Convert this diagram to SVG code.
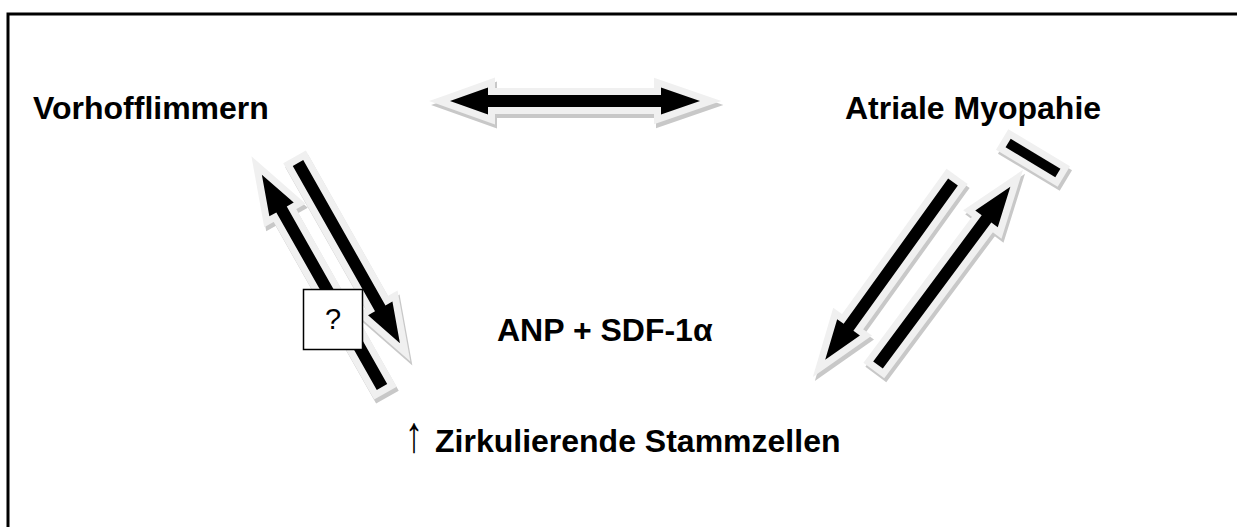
<svg xmlns="http://www.w3.org/2000/svg" width="1237" height="527" viewBox="0 0 1237 527">
<style>
  .lbl { font-family: "Liberation Sans", Arial, sans-serif; font-weight: bold; font-size: 32px; fill: #000; }
  .q { font-family: "Liberation Sans", Arial, sans-serif; font-size: 29px; fill: #000; }
  .sh { fill: #c8c8c8; stroke: #c8c8c8; stroke-width: 14; stroke-linejoin: miter; }
  .hl { fill: #f0f0f0; stroke: #f0f0f0; stroke-width: 14; stroke-linejoin: miter; }
  .bk { fill: #000; stroke: none; }
</style>
<rect width="1237" height="527" fill="#fff"/>
<rect x="8" y="14" width="1300" height="560" fill="none" stroke="#000" stroke-width="3"/>

<g id="node-vorhofflimmern"><text class="lbl" x="33" y="119">Vorhofflimmern</text></g>
<g id="node-atriale-myopathie"><text class="lbl" x="845" y="119">Atriale Myopahie</text></g>
<g id="node-anp-sdf"><text class="lbl" x="497" y="341">ANP + SDF-1α</text></g>
<g id="node-stammzellen">
  <text transform="translate(414,452) scale(1.15,1.6)" x="0" y="0" text-anchor="middle" font-family="'Liberation Sans', Arial, sans-serif" font-size="32">↑</text>
  <text class="lbl" x="435" y="452">Zirkulierende Stammzellen</text>
</g>

<g id="connectors">
  <g id="c-top">
    <path class="sh" transform="translate(2,4)" d="M450,101 L488,87.5 L488,95 L661,95 L661,87.5 L700,101 L661,114.5 L661,107 L488,107 L488,114.5 Z"/>
    <path class="hl" d="M450,101 L488,87.5 L488,95 L661,95 L661,87.5 L700,101 L661,114.5 L661,107 L488,107 L488,114.5 Z"/>
    <path class="bk" d="M450,101 L488,87.5 L488,95 L661,95 L661,87.5 L700,101 L661,114.5 L661,107 L488,107 L488,114.5 Z"/>
  </g>
  <g id="c-left-up" transform="translate(382,387) rotate(-119.5)">
    <path class="sh" transform="rotate(119.5) translate(2,4) rotate(-119.5)" d="M0,-6 L204,-6 L204,-14 L244,0 L204,14 L204,6 L0,6 Z"/>
    <path class="hl" d="M0,-6 L204,-6 L204,-14 L244,0 L204,14 L204,6 L0,6 Z"/>
    <path class="bk" d="M0,-6 L204,-6 L204,-14 L244,0 L204,14 L204,6 L0,6 Z"/>
  </g>
  <g id="c-left-down" transform="translate(298,163) rotate(60.5)">
    <path class="sh" transform="rotate(-60.5) translate(2,4) rotate(60.5)" d="M0,-6 L167,-6 L167,-14 L207,0 L167,14 L167,6 L0,6 Z"/>
    <path class="hl" d="M0,-6 L167,-6 L167,-14 L207,0 L167,14 L167,6 L0,6 Z"/>
    <path class="bk" d="M0,-6 L167,-6 L167,-14 L207,0 L167,14 L167,6 L0,6 Z"/>
  </g>
  <g id="c-right-down" transform="translate(953,182) rotate(125.7)">
    <path class="sh" transform="rotate(-125.7) translate(2,4) rotate(125.7)" d="M0,-6 L179,-6 L179,-14 L219,0 L179,14 L179,6 L0,6 Z"/>
    <path class="hl" d="M0,-6 L179,-6 L179,-14 L219,0 L179,14 L179,6 L0,6 Z"/>
    <path class="bk" d="M0,-6 L179,-6 L179,-14 L219,0 L179,14 L179,6 L0,6 Z"/>
  </g>
  <g id="c-right-up" transform="translate(878,365) rotate(-53.4)">
    <path class="sh" transform="rotate(53.4) translate(2,4) rotate(-53.4)" d="M0,-6 L182,-6 L182,-14 L222,0 L182,14 L182,6 L0,6 Z"/>
    <path class="hl" d="M0,-6 L182,-6 L182,-14 L222,0 L182,14 L182,6 L0,6 Z"/>
    <path class="bk" d="M0,-6 L182,-6 L182,-14 L222,0 L182,14 L182,6 L0,6 Z"/>
  </g>
  <g id="c-tbar" transform="translate(1033,158) rotate(31)">
    <rect class="sh" transform="rotate(-31) translate(2,4) rotate(31)" x="-29" y="-5" width="58" height="10"/>
    <rect class="hl" x="-29" y="-5" width="58" height="10"/>
    <rect class="bk" x="-29" y="-5" width="58" height="10"/>
  </g>
</g>

<g id="node-question">
  <rect x="303.5" y="289.5" width="59" height="60" fill="#fff" stroke="#000" stroke-width="1.5"/>
  <text class="q" x="333" y="329" text-anchor="middle">?</text>
</g>
</svg>
